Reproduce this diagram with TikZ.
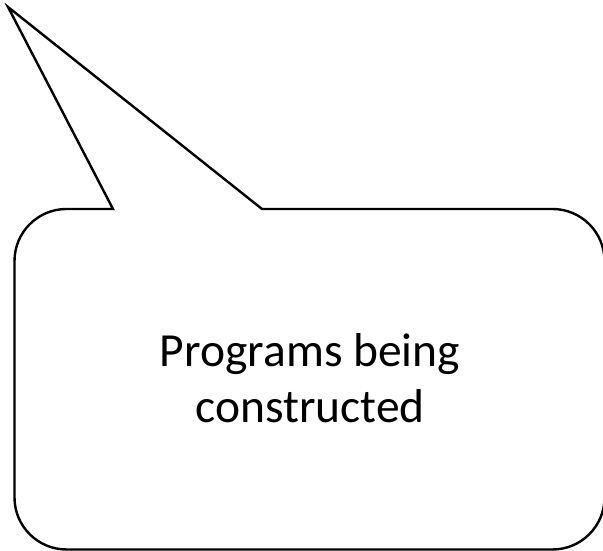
\documentclass[tikz,border=0pt]{standalone}
\usepackage{fontspec}
\setmainfont{Carlito}
\begin{document}
\begin{tikzpicture}[x=1pt,y=1pt,
  bubble/.style={draw=black,line width=2.4pt,line join=miter},
  label/.style={align=center,font=\fontsize{47.5}{56}\selectfont,inner sep=0pt}]
\useasboundingbox (0,0) rectangle (603,551);
\clip (0,0) rectangle (603,551);
\coordinate (tip) at (8,544);
\coordinate (tl) at (113,342);
\coordinate (tr) at (262,342);
\draw[bubble] (tl) -- (tip) -- (tr) -- (552.5,342)
  arc[start angle=90,end angle=0,radius=52] -- (604.5,53.5)
  arc[start angle=0,end angle=-90,radius=52] -- (66.5,1.5)
  arc[start angle=270,end angle=180,radius=52] -- (14.5,290)
  arc[start angle=180,end angle=90,radius=52] -- cycle;
\node[label,anchor=base] (txt) at (310,128) {Programs being\\constructed};
\end{tikzpicture}
\end{document}
